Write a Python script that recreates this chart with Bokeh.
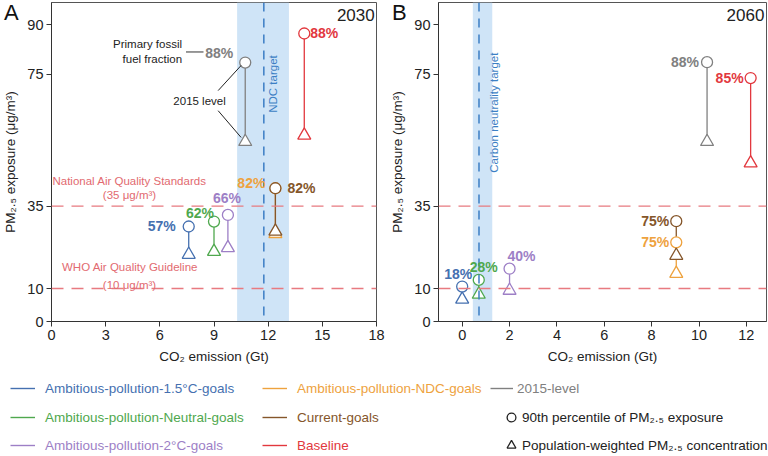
from bokeh.plotting import figure
from bokeh.models import (ColumnDataSource, LabelSet, Label, Span, BoxAnnotation,
                          FixedTicker, Legend, LegendItem, Range1d, Div)
from bokeh.layouts import row, column
from bokeh.embed import file_html
from bokeh.resources import INLINE
from bokeh.core.properties import value

FONT = "Liberation Sans"
NAN = float("nan")

# ---------------- data ----------------
scenarios = ["Ambitious-pollution-1.5°C-goals", "Ambitious-pollution-Neutral-goals",
             "Ambitious-pollution-2°C-goals", "Ambitious-pollution-NDC-goals",
             "Current-goals", "Baseline", "2015-level"]
colors = ["#4570b0", "#4fa84e", "#9d7fc6", "#eea23e", "#85562a", "#e2383e", "#808080"]

co2_2030 = [7.6, 9.0, 9.77, 12.4, 12.4, 14.0, 10.73]
p90_2030 = [28.8, 30.3, 32.3, 40.4, 40.4, 87.3, 78.5]
popw_2030 = [20.3, 21.2, 22.3, 26.6, 27.3, 56.4, 54.5]
fossil_2030 = ["57%", "62%", "66%", "82%", "82%", "88%", "88%"]

co2_2060 = [0.0, 0.7, 2.0, 9.04, 9.04, 12.18, 10.34]
p90_2060 = [10.6, 12.6, 16.0, 24.0, 30.4, 73.8, 78.6]
popw_2060 = [6.7, 8.2, 9.4, 14.5, 20.0, 48.0, 54.5]
fossil_2060 = ["18%", "28%", "40%", "75%", "75%", "85%", "88%"]

y_ticks = [0, 10, 35, 75, 90]
x_ticks_2030 = [0, 3, 6, 9, 12, 15, 18]
x_ticks_2060 = [0, 2, 4, 6, 8, 10, 12]
naqs_level = 35
who_level = 10
ndc_target = 11.76
ndc_band = (10.28, 13.15)
neutral_target = 0.71
neutral_band = (0.45, 1.27)

# ---------------- styles (label placement in px) ----------------
off_2030 = dict(dx=[-13, 0, -1, -10, 12, 6, -12], dy=[0, 9, 17, 5, 0, 1, 10],
                align=["right", "right", "center", "right", "left", "left", "right"])
off_2060 = dict(dx=[-4, 5, 12, -7, -7, -7, -8], dy=[13, 13, 13, 0, 0, 0, 0],
                align=["center", "center", "center", "right", "right", "right", "right"])

RED_TXT = "#e26a70"
BLUE_TXT = "#3c7fc4"


def style_axes(p, xticks, xlabel):
    p.xaxis.ticker = FixedTicker(ticks=xticks)
    p.yaxis.ticker = FixedTicker(ticks=y_ticks)
    p.xaxis.axis_label = xlabel
    p.yaxis.axis_label = "PM₂.₅ exposure (μg/m³)"
    for ax in (p.xaxis[0], p.yaxis[0]):
        ax.major_label_text_font = FONT
        ax.major_label_text_font_size = "14.5px"
        ax.major_label_text_color = "#222222"
        ax.axis_label_text_font = FONT
        ax.axis_label_text_font_size = "13.5px"
        ax.axis_label_text_font_style = "normal"
        ax.axis_label_text_color = "#222222"
        ax.major_tick_out = 5
        ax.major_tick_in = 0
        ax.minor_tick_out = 0
        ax.minor_tick_in = 0
        ax.axis_line_color = "#333333"
        ax.major_tick_line_color = "#333333"
        ax.major_label_standoff = 3
        ax.axis_label_standoff = 6


def make_panel(co2, p90, popw, frac, xr, xticks, off, frame_w, bl, br, band, target):
    p = figure(frame_width=frame_w, frame_height=319, x_range=Range1d(*xr),
               y_range=Range1d(0, 96.7), output_backend="svg", toolbar_location=None,
               min_border_left=bl, min_border_right=br, min_border_top=2,
               min_border_bottom=49, outline_line_color="#555555",
               background_fill_color="white", border_fill_color="white")
    p.grid.visible = False
    style_axes(p, xticks, "CO₂ emission (Gt)")
    p.add_layout(BoxAnnotation(left=band[0], right=band[1], fill_color="#cfe4f7",
                               fill_alpha=1, line_alpha=0, level="underlay"))
    p.add_layout(Span(location=target, dimension="height", line_color="#3b7dc4",
                      line_dash="9 7", line_width=1.5))
    for lvl in (naqs_level, who_level):
        p.add_layout(Span(location=lvl, dimension="width", line_color="#e87a80",
                          line_dash="12 8", line_width=1.3))
    src = ColumnDataSource(dict(x=co2, circ=p90, tri=popw, label=frac, color=colors,
                                dx=off["dx"], dy=off["dy"], align=off["align"]))
    p.segment(x0="x", y0="tri", x1="x", y1="circ", line_color="color", line_width=1.3,
              source=src)
    p.scatter(x="x", y="circ", marker="circle", size=11, line_color="color",
              fill_color="white", line_width=1.3, source=src)
    p.scatter(x="x", y="tri", marker="triangle", size=13, line_color="color",
              fill_color="white", line_width=1.3, source=src)
    p.add_layout(LabelSet(x="x", y="circ", text="label", x_offset="dx", y_offset="dy",
                          text_align="align", text_baseline="middle", text_color="color",
                          text_font=value(FONT), text_font_size="14px",
                          text_font_style="bold", source=src))
    return p


def txt(p, x, y, t, size="11.5px", color="#222222", align="center", angle=0):
    p.add_layout(Label(x=x, y=y, text=t, text_font=FONT, text_font_size=size,
                       text_color=color, text_align=align, text_baseline="middle",
                       angle=angle))


# ---------------- panel A ----------------
pA = make_panel(co2_2030, p90_2030, popw_2030, fossil_2030, (0, 18), x_ticks_2030,
                off_2030, 325, 50, 11, ndc_band, ndc_target)
txt(pA, 17.9, 93.0, "2030", size="17px", align="right")
txt(pA, ndc_target + 0.52, 72, "NDC target", size="11.5px", color=BLUE_TXT, angle=1.5708)
txt(pA, 7.23, 84.2, "Primary fossil", align="right")
txt(pA, 7.23, 79.7, "fuel fraction", align="right")
pA.segment(x0=[7.45], y0=[81.7], x1=[8.42], y1=[81.7], line_color="#333333", line_width=1)
txt(pA, 8.2, 66.7, "2015 level", align="center")
pA.segment(x0=[9.23, 9.23], y0=[70.0, 63.9], x1=[10.5, 10.5], y1=[77.6, 55.8],
           line_color="#222222", line_width=1)
txt(pA, 4.32, 42.7, "National Air Quality Standards", color=RED_TXT)
txt(pA, 4.32, 38.2, "(35 μg/m³)", color=RED_TXT)
txt(pA, 4.35, 16.4, "WHO Air Quality Guideline", color=RED_TXT)
txt(pA, 4.32, 11.2, "(10 μg/m³)", color=RED_TXT)

# ---------------- panel B ----------------
pB = make_panel(co2_2060, p90_2060, popw_2060, fossil_2060, (-1.0, 12.85), x_ticks_2060,
                off_2060, 328, 51, 3, neutral_band, neutral_target)
txt(pB, 12.76, 93.0, "2060", size="17px", align="right")
txt(pB, 1.36, 63.3, "Carbon neutrality target", size="11.5px", color=BLUE_TXT,
    angle=1.5708)

# ---------------- panel letters ----------------
letter_style = {"position": "absolute", "top": "1px", "font-family": FONT,
                "font-size": "22px", "line-height": "24px", "color": "#111111",
                "margin": "0", "padding": "0", "overflow": "visible", "z-index": "10"}
divA = Div(text="A", width=22, height=24, styles=dict(letter_style, left="4px"))
divB = Div(text="B", width=22, height=24, styles=dict(letter_style, left="392px"))

# ---------------- legend ----------------
pL = figure(width=768, height=86, output_backend="svg", toolbar_location=None,
            x_axis_location=None, y_axis_location=None, min_border=0,
            outline_line_color=None, x_range=(0, 1), y_range=(0, 1))
pL.grid.visible = False

LEG_FS = "13.5px"
leg_pos = [(10, 59), (10, 30), (10, 2), (262, 59), (262, 30), (262, 2), (490, 59)]
for name, c, pos in zip(scenarios, colors, leg_pos):
    r = pL.line(x=[NAN, NAN], y=[NAN, NAN], line_color=c, line_width=1.4)
    gw = 23 if name == "2015-level" else 25
    sd = 4 if name == "2015-level" else 10
    pL.add_layout(Legend(items=[LegendItem(label=name, renderers=[r])], location=pos,
                         glyph_width=gw, glyph_height=18, label_height=18,
                         label_standoff=sd, padding=0, margin=0, spacing=0,
                         border_line_alpha=0, background_fill_alpha=0,
                         label_text_font=FONT, label_text_font_size=LEG_FS,
                         label_text_color=c))

mk_items = [("circle", "90th percentile of PM₂.₅ exposure", (500, 28)),
            ("triangle", "Population-weighted PM₂.₅ concentration", (500, 0))]
for mk, lab, pos in mk_items:
    r = pL.scatter(x=[NAN], y=[NAN], marker=mk, size=9, line_color="#222222",
                   fill_color="white", line_width=1.3)
    pL.add_layout(Legend(items=[LegendItem(label=lab, renderers=[r])], location=pos,
                         glyph_width=22, glyph_height=22, label_height=22,
                         label_standoff=0, padding=0, margin=0, spacing=0,
                         border_line_alpha=0, background_fill_alpha=0,
                         label_text_font=FONT, label_text_font_size=LEG_FS,
                         label_text_color="#222222"))

layout = column(row(pA, pB), pL, divA, divB)
open("out.html", "w").write(file_html(layout, INLINE))
